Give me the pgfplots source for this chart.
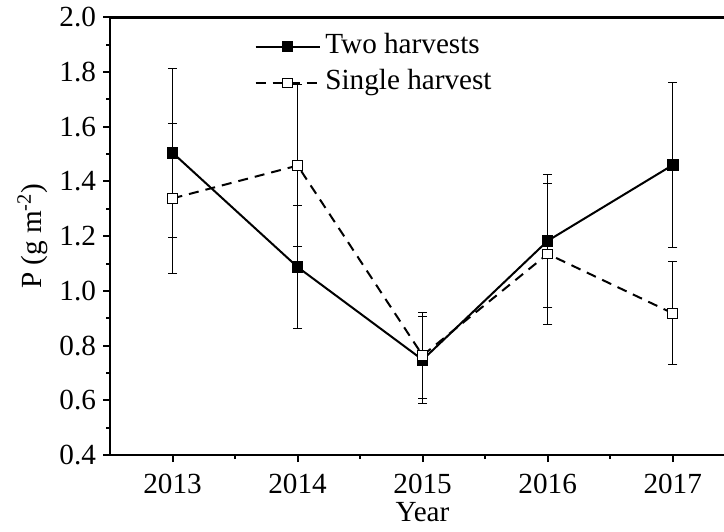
\documentclass[border=0pt]{standalone}
\usepackage{fontspec}
\setmainfont{Liberation Serif}
\usepackage{pgfplots}
\pgfplotsset{compat=1.18}

\newcommand{\chartfont}{\fontsize{14.6}{16.5}\selectfont}

\begin{document}
\begin{tikzpicture}
\begin{axis}[
	name=ax,
	scale only axis,
	width=307pt, height=218.85pt,
	xmin=2012.5, xmax=2017.41,
	ymin=0.4, ymax=2.0,
	axis x line=box, axis y line=left,
	axis line style={line width=1.2pt, -},
	tick align=outside, tick pos=left,
	xtick={2013,2014,2015,2016,2017},
	xticklabels={2013,2014,2015,2016,2017},
	ytick={0.4,0.6,0.8,1.0,1.2,1.4,1.6,1.8,2.0},
	yticklabels={0.4,0.6,0.8,1.0,1.2,1.4,1.6,1.8,2.0},
	minor x tick num=1, minor y tick num=1,
	major tick length=3.5pt, minor tick length=2pt,
	every tick/.style={line width=1pt, black},
	tick label style={font=\chartfont},
	xticklabel style={yshift=-2.5pt},
	label style={font=\chartfont},
	xlabel={Year},
	ylabel={P (g m\textsuperscript{-2})},
	xlabel style={xshift=2.75pt, yshift=2.5pt},
	ylabel style={yshift=-1pt},
	legend style={draw=none, fill=none, at={(0.225,0.985)}, anchor=north west,
		font=\chartfont, row sep=0pt,
		nodes={text height=10pt, text depth=3.5pt, inner sep=2.4pt}},
	legend cell align=left,
	legend image code/.code={\draw[mark repeat=2,mark phase=2]
		plot coordinates {(0pt,0pt)(16pt,0pt)(32pt,0pt)};},
]
% Two harvests
\addplot[black, line width=1pt, mark=square*, mark size=2.4pt,
	mark options={solid, fill=black},
	error bars/.cd, y dir=both, y explicit,
	error bar style={solid, line width=0.5pt, black},
	error mark options={rotate=90, mark size=2.3pt, line width=0.5pt}]
table[x=x, y=y, y error=e] {
x    y     e
2013 1.505 0.309
2014 1.087 0.224
2015 0.748 0.160
2016 1.183 0.242
2017 1.460 0.300
};
\addlegendentry{Two harvests}
% Single harvest
\addplot[black, line width=1pt, dash pattern=on 5pt off 3.5pt,
	mark=square*, mark size=2.4pt,
	mark options={solid, fill=white, line width=0.5pt},
	error bars/.cd, y dir=both, y explicit,
	error bar style={solid, line width=0.5pt, black},
	error mark options={rotate=90, mark size=2.3pt, line width=0.5pt}]
table[x=x, y=y, y error=e] {
x    y     e
2013 1.338 0.274
2014 1.458 0.297
2015 0.764 0.157
2016 1.135 0.257
2017 0.918 0.189
};
\addlegendentry{Single harvest}
\end{axis}
\pgfresetboundingbox
\path[use as bounding box] ([xshift=-55pt,yshift=-38pt]ax.south west)
	rectangle ([yshift=8.65pt]ax.north east);
\end{tikzpicture}
\end{document}
